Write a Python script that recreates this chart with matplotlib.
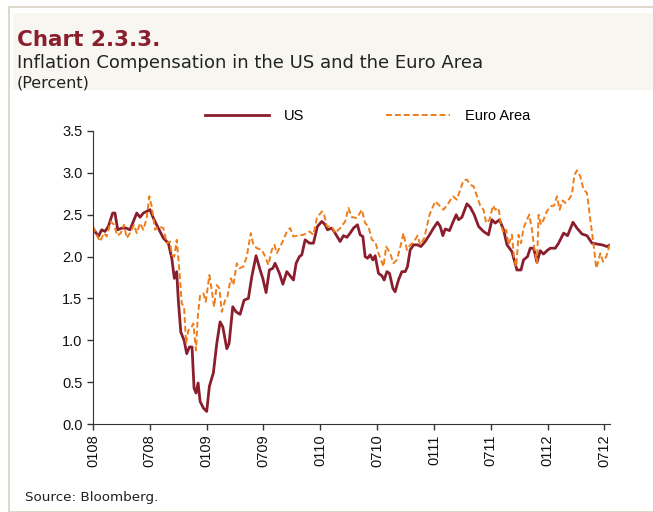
import numpy as np
import matplotlib.pyplot as plt
from matplotlib.patches import Rectangle

# months since Jan 2008
us_month = [0.0, 0.56, 0.92, 1.27, 1.62, 2.08, 2.32, 2.61, 3.03, 3.49, 3.91, 4.62, 4.97, 5.32, 5.67,
            6.02, 6.37, 6.90, 7.43, 7.96, 8.32, 8.59, 8.84, 9.01, 9.27, 9.62, 9.90, 10.18, 10.46,
            10.67, 10.88, 11.10, 11.31, 11.66, 12.01, 12.29, 12.71, 13.07, 13.42, 13.71, 14.13,
            14.37, 14.76, 15.11, 15.53, 15.96, 16.41, 16.77, 17.22, 17.65, 17.93, 18.28, 18.63,
            18.99, 19.23, 19.69, 20.05, 20.47, 20.89, 21.17, 21.45, 21.80, 22.05, 22.40, 22.86,
            23.28, 23.70, 24.17, 24.52, 24.76, 25.22, 25.57, 26.10, 26.45, 26.81, 27.16, 27.51,
            27.93, 28.21, 28.50, 28.74, 28.99, 29.27, 29.56, 29.80, 30.15, 30.51, 30.75, 31.04,
            31.31, 31.67, 31.91, 32.26, 32.62, 32.97, 33.21, 33.50, 33.85, 34.27, 34.63, 35.08,
            35.54, 35.96, 36.38, 36.67, 36.95, 37.20, 37.65, 38.01, 38.36, 38.60, 38.96, 39.49,
            39.84, 40.26, 40.72, 41.24, 41.77, 42.13, 42.48, 42.93, 43.36, 43.72, 44.24, 44.77,
            45.20, 45.47, 45.89, 46.18, 46.53, 46.89, 47.23, 47.58, 47.94, 48.29, 48.82, 49.17,
            49.70, 50.12, 50.69, 51.11, 51.64, 52.17, 52.70, 53.23, 53.76, 54.28, 54.63]
us_value = [2.34, 2.24, 2.32, 2.30, 2.36, 2.52, 2.52, 2.32, 2.34, 2.34, 2.32, 2.52, 2.47, 2.52, 2.54,
            2.56, 2.46, 2.34, 2.22, 2.16, 1.98, 1.74, 1.82, 1.48, 1.10, 1.00, 0.84, 0.92, 0.92,
            0.43, 0.37, 0.49, 0.27, 0.19, 0.15, 0.45, 0.61, 0.96, 1.22, 1.16, 0.90,
            0.96, 1.40, 1.34, 1.31, 1.48, 1.50, 1.76, 2.01, 1.84, 1.74, 1.57, 1.84,
            1.86, 1.92, 1.80, 1.67, 1.82, 1.76, 1.72, 1.92, 2.00, 2.02, 2.20, 2.16,
            2.16, 2.36, 2.42, 2.38, 2.32, 2.34, 2.28, 2.18, 2.25, 2.23, 2.28, 2.34,
            2.38, 2.26, 2.24, 2.00, 1.98, 2.02, 1.96, 2.01, 1.80, 1.77, 1.72, 1.82,
            1.80, 1.62, 1.58, 1.72, 1.82, 1.82, 1.88, 2.08, 2.14, 2.14, 2.12, 2.18,
            2.26, 2.34, 2.41, 2.36, 2.25, 2.33, 2.31, 2.41, 2.50, 2.44, 2.47, 2.63,
            2.59, 2.50, 2.36, 2.30, 2.26, 2.44, 2.40, 2.44, 2.32, 2.14, 2.06, 1.84,
            1.84, 1.96, 2.00, 2.10, 2.10, 1.93, 2.07, 2.03, 2.07, 2.10, 2.10, 2.16,
            2.28, 2.25, 2.41, 2.34, 2.27, 2.25, 2.16, 2.15, 2.14, 2.12, 2.14]

ea_month = [0.0, 0.39, 0.74, 1.16, 1.45, 1.87, 2.22, 2.57, 2.93, 3.28, 3.56, 3.91, 4.33, 4.62, 4.97,
            5.32, 5.67, 5.95, 6.20, 6.55, 6.90, 7.43, 7.79, 8.14, 8.32, 8.59, 8.84, 9.12, 9.37,
            9.62, 9.83, 10.07, 10.32, 10.60, 10.88, 11.06, 11.31, 11.66, 11.91, 12.29, 12.54,
            12.79, 13.07, 13.35, 13.60, 13.95, 14.19, 14.55, 14.83, 15.18, 15.46, 15.88, 16.24,
            16.66, 16.94, 17.30, 17.83, 18.18, 18.52, 18.88, 19.16, 19.41, 19.69, 20.11, 20.47,
            20.82, 21.17, 21.69, 22.22, 22.86, 23.28, 23.64, 24.17, 24.41, 24.70, 25.22, 25.57,
            26.10, 26.63, 26.98, 27.34, 27.87, 28.39, 28.74, 29.09, 29.45, 29.80, 30.15, 30.68,
            30.96, 31.38, 31.73, 32.09, 32.51, 32.79, 33.15, 33.50, 33.85, 34.27, 34.55, 34.98,
            35.54, 36.14, 36.67, 37.02, 37.55, 38.01, 38.43, 38.78, 39.13, 39.49, 39.84, 40.19,
            40.55, 40.89, 41.24, 41.53, 41.88, 42.24, 42.48, 42.83, 43.08, 43.36, 43.64, 43.89,
            44.24, 44.49, 44.70, 44.94, 45.20, 45.47, 45.83, 46.07, 46.36, 46.60, 46.89, 47.06,
            47.31, 47.58, 47.94, 48.29, 48.71, 49.00, 49.28, 49.59, 49.88, 50.23, 50.58, 50.83,
            51.11, 51.46, 51.81, 52.17, 52.52, 52.87, 53.15, 53.40, 53.58, 53.86, 54.21, 54.56]
ea_value = [2.36, 2.26, 2.18, 2.28, 2.24, 2.42, 2.38, 2.25, 2.28, 2.38, 2.22, 2.28, 2.38, 2.28, 2.40,
            2.32, 2.46, 2.72, 2.60, 2.32, 2.36, 2.34, 2.16, 2.18, 2.02, 2.00, 2.20, 1.84, 1.44,
            1.40, 0.96, 1.12, 1.14, 1.20, 0.88, 1.28, 1.54, 1.56, 1.46, 1.78, 1.60,
            1.40, 1.66, 1.62, 1.34, 1.48, 1.52, 1.74, 1.66, 1.92, 1.86, 1.88, 2.00,
            2.28, 2.14, 2.10, 2.08, 2.00, 1.90, 2.08, 2.14, 2.04, 2.10, 2.20, 2.30,
            2.34, 2.24, 2.25, 2.26, 2.30, 2.26, 2.46, 2.54, 2.50, 2.36, 2.36, 2.28,
            2.34, 2.42, 2.58, 2.47, 2.46, 2.56, 2.40, 2.36, 2.20, 2.18, 2.04, 1.88,
            2.12, 2.04, 1.92, 1.96, 2.14, 2.28, 2.08, 2.14, 2.17, 2.25, 2.14, 2.22,
            2.50, 2.66, 2.60, 2.56, 2.64, 2.72, 2.68, 2.80, 2.91, 2.92, 2.86, 2.84,
            2.72, 2.61, 2.56, 2.40, 2.44, 2.61, 2.56, 2.58, 2.38, 2.28, 2.32, 2.14,
            2.26, 1.96, 1.88, 2.26, 2.16, 2.34, 2.44, 2.50, 2.32, 2.10, 1.92, 2.50,
            2.38, 2.44, 2.54, 2.60, 2.61, 2.72, 2.56, 2.67, 2.64, 2.68, 2.74, 2.97,
            3.03, 2.96, 2.80, 2.76, 2.44, 2.14, 1.86, 1.96, 2.04, 1.94, 2.00, 2.14]

tick_months = [0, 6, 12, 18, 24, 30, 36, 42, 48, 54]
tick_labels = ['0108', '0708', '0109', '0709', '0110', '0710', '0111', '0711', '0112', '0712']

US_COLOR = '#8B1E2D'
EA_COLOR = '#EE7D1A'

fig = plt.figure(figsize=(6.53, 5.12), dpi=100)

# frame and header box
fig.patches.append(Rectangle((9 / 653, 0), 1, 1 - 7 / 512, transform=fig.transFigure,
                             facecolor='none', edgecolor='#D9D2C3', lw=1.2))
fig.patches.append(Rectangle((13 / 653, 1 - 90 / 512), 1, 77 / 512, transform=fig.transFigure,
                             facecolor='#F7F6F1', edgecolor='none'))

fig.text(17 / 653, 1 - 46 / 512, 'Chart 2.3.3.', color=US_COLOR, fontsize=15.5,
         fontweight='bold', family='DejaVu Sans')
fig.text(17 / 653, 1 - 68 / 512, 'Inflation Compensation in the US and the Euro Area',
         color='#222222', fontsize=13, family='DejaVu Sans')
fig.text(17 / 653, 1 - 87 / 512, '(Percent)', color='#222222', fontsize=11.5, family='DejaVu Sans')
fig.text(25 / 653, 1 - 501 / 512, 'Source: Bloomberg.', color='#222222', fontsize=9.7,
         family='DejaVu Sans')

ax = fig.add_axes([93 / 653, 1 - 424 / 512, (610 - 93) / 653, (424 - 131) / 512])
ax.plot(us_month, us_value, color=US_COLOR, lw=2.0, label='US')
ax.plot(ea_month, ea_value, color=EA_COLOR, lw=1.4, ls=(0, (3, 1.6)), label='Euro Area')

ax.set_xlim(0, 54.6)
ax.set_ylim(0, 3.5)
ax.set_yticks(np.arange(0, 3.51, 0.5))
ax.set_yticklabels([f'{v:.1f}' for v in np.arange(0, 3.51, 0.5)])
ax.set_xticks(tick_months)
ax.set_xticklabels(tick_labels, rotation=90)
for lab in ax.get_xticklabels() + ax.get_yticklabels():
    lab.set_family('Liberation Sans')
    lab.set_fontsize(10.5)
    lab.set_color('#111111')
ax.tick_params(axis='both', direction='out', length=4, width=1, color='#333333')
for s in ['top', 'right']:
    ax.spines[s].set_visible(False)
for s in ['left', 'bottom']:
    ax.spines[s].set_color('#333333')

leg = fig.legend(loc='center', bbox_to_anchor=(0.563, 1 - 116 / 512), ncol=2, frameon=False,
                 handlelength=4.4, columnspacing=5.6, handletextpad=1.0,
                 prop={'family': 'Liberation Sans', 'size': 10.5})

fig.savefig('out.png', dpi=100)
